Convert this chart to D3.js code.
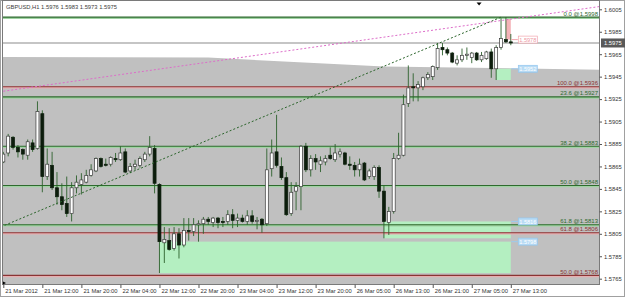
<!DOCTYPE html>
<meta charset="utf-8">

<!-- Load d3.js -->
<script src="https://d3js.org/d3.v7.min.js"></script>

<style>
  body { margin: 0; background: #ffffff; }
  text { font-family: "Liberation Sans", Arial, sans-serif; }
</style>

<!-- Create a div where the graph will take place -->
<div id="my_dataviz"></div>

<script>

// GBPUSD H1 bars, bar 0 = 21 Mar 2012 04:00 ... bar 104 = 27 Mar 2012 13:00
var opens = [
  1.5869, 1.5877, 1.5891, 1.5882, 1.5880, 1.5875, 1.5886, 1.5881, 1.5912, 1.5856,
  1.5866, 1.5846, 1.5838, 1.5832, 1.5823, 1.5846, 1.5849, 1.5851, 1.5857, 1.5861,
  1.5872, 1.5867, 1.5867, 1.5872, 1.5871, 1.5878, 1.5861, 1.5865, 1.5866, 1.5871,
  1.5876, 1.5881, 1.5849, 1.5797, 1.5799, 1.5792, 1.5805, 1.5795, 1.5808, 1.5807,
  1.5813, 1.5814, 1.5818, 1.5815, 1.5819, 1.5816, 1.5816, 1.5822, 1.5817, 1.5819,
  1.5816, 1.5821, 1.5816, 1.5818, 1.5814, 1.5863, 1.5878, 1.5865, 1.5855, 1.5823,
  1.5843, 1.5847, 1.5883, 1.5862, 1.5872, 1.5867, 1.5869, 1.5875, 1.5871, 1.5876,
  1.5877, 1.5867, 1.5866, 1.5862, 1.5868, 1.5856, 1.5856, 1.5864, 1.5843, 1.5815,
  1.5825, 1.5872, 1.5875, 1.5921, 1.5936, 1.5935, 1.5936, 1.5944, 1.5945, 1.5953,
  1.5971, 1.5969, 1.5966, 1.5957, 1.5960, 1.5964, 1.5962, 1.5966, 1.5960, 1.5961,
  1.5967, 1.5952, 1.5971, 1.5978, 1.5976];
var highs = [
  1.5878, 1.5894, 1.5892, 1.5884, 1.5881, 1.5889, 1.5889, 1.5923, 1.5915, 1.5881,
  1.5878, 1.5860, 1.5850, 1.5856, 1.5851, 1.5857, 1.5859, 1.5862, 1.5867, 1.5873,
  1.5873, 1.5872, 1.5874, 1.5877, 1.5883, 1.5881, 1.5868, 1.5871, 1.5874, 1.5878,
  1.5892, 1.5884, 1.5850, 1.5811, 1.5810, 1.5811, 1.5810, 1.5819, 1.5819, 1.5819,
  1.5817, 1.5820, 1.5820, 1.5820, 1.5820, 1.5820, 1.5826, 1.5827, 1.5823, 1.5822,
  1.5826, 1.5826, 1.5820, 1.5819, 1.5881, 1.5889, 1.5911, 1.5873, 1.5860, 1.5851,
  1.5851, 1.5884, 1.5886, 1.5875, 1.5876, 1.5874, 1.5875, 1.5882, 1.5885, 1.5881,
  1.5878, 1.5874, 1.5869, 1.5872, 1.5869, 1.5863, 1.5866, 1.5866, 1.5848, 1.5829,
  1.5877, 1.5895, 1.5929, 1.5955, 1.5948, 1.5941, 1.5945, 1.5949, 1.5955, 1.5975,
  1.5975, 1.5971, 1.5967, 1.5964, 1.5970, 1.5971, 1.5967, 1.5967, 1.5967, 1.5968,
  1.5970, 1.5973, 1.5997, 1.5998, 1.5983];
var lows = [
  1.5868, 1.5874, 1.5880, 1.5873, 1.5871, 1.5871, 1.5878, 1.5880, 1.5842, 1.5853,
  1.5844, 1.5831, 1.5826, 1.5820, 1.5816, 1.5841, 1.5840, 1.5850, 1.5856, 1.5860,
  1.5864, 1.5865, 1.5865, 1.5869, 1.5870, 1.5859, 1.5859, 1.5862, 1.5864, 1.5869,
  1.5874, 1.5841, 1.5770, 1.5779, 1.5790, 1.5790, 1.5783, 1.5793, 1.5799, 1.5803,
  1.5798, 1.5805, 1.5813, 1.5811, 1.5810, 1.5811, 1.5813, 1.5810, 1.5811, 1.5815,
  1.5813, 1.5814, 1.5809, 1.5806, 1.5812, 1.5856, 1.5864, 1.5853, 1.5821, 1.5821,
  1.5826, 1.5826, 1.5860, 1.5856, 1.5862, 1.5860, 1.5866, 1.5871, 1.5869, 1.5873,
  1.5866, 1.5862, 1.5856, 1.5856, 1.5852, 1.5854, 1.5853, 1.5837, 1.5801, 1.5804,
  1.5823, 1.5871, 1.5874, 1.5918, 1.5923, 1.5923, 1.5933, 1.5942, 1.5942, 1.5951,
  1.5964, 1.5964, 1.5957, 1.5955, 1.5958, 1.5960, 1.5957, 1.5959, 1.5958, 1.5960,
  1.5944, 1.5942, 1.5969, 1.5975, 1.5973];
var closes = [
  1.5876, 1.5892, 1.5882, 1.5878, 1.5876, 1.5887, 1.5880, 1.5914, 1.5856, 1.5867,
  1.5846, 1.5838, 1.5831, 1.5823, 1.5846, 1.5851, 1.5853, 1.5857, 1.5862, 1.5872,
  1.5865, 1.5866, 1.5873, 1.5871, 1.5877, 1.5860, 1.5865, 1.5867, 1.5872, 1.5876,
  1.5882, 1.5850, 1.5798, 1.5800, 1.5791, 1.5805, 1.5795, 1.5808, 1.5807, 1.5813,
  1.5814, 1.5818, 1.5816, 1.5819, 1.5815, 1.5815, 1.5822, 1.5817, 1.5819, 1.5816,
  1.5821, 1.5816, 1.5817, 1.5813, 1.5862, 1.5877, 1.5866, 1.5855, 1.5822, 1.5842,
  1.5847, 1.5883, 1.5862, 1.5872, 1.5869, 1.5870, 1.5872, 1.5872, 1.5877, 1.5878,
  1.5867, 1.5866, 1.5862, 1.5867, 1.5853, 1.5861, 1.5864, 1.5843, 1.5816, 1.5825,
  1.5872, 1.5875, 1.5920, 1.5935, 1.5935, 1.5938, 1.5944, 1.5947, 1.5954, 1.5970,
  1.5969, 1.5966, 1.5958, 1.5960, 1.5964, 1.5965, 1.5966, 1.5960, 1.5964, 1.5967,
  1.5952, 1.5971, 1.5979, 1.5976, 1.5975];

// time axis
var tickBars = [0, 8, 16, 24, 32, 40, 48, 56, 64, 72, 80, 88, 96, 104];
var tickLabels = ["21 Mar 2012", "21 Mar 12:00", "21 Mar 20:00", "22 Mar 04:00", "22 Mar 12:00",
  "22 Mar 20:00", "23 Mar 04:00", "23 Mar 12:00", "23 Mar 20:00", "26 Mar 05:00",
  "26 Mar 13:00", "26 Mar 21:00", "27 Mar 05:00", "27 Mar 13:00"];

// price axis
var priceTicks = [1.5765, 1.5785, 1.5805, 1.5825, 1.5845, 1.5865, 1.5885, 1.5905,
  1.5925, 1.5945, 1.5965, 1.5985, 1.6005];
var currentPrice = 1.5975;
var titleText = "GBPUSD,H1  1.5976 1.5983 1.5973 1.5975";

// fibonacci levels
var fibGreenLevels = ["0.0", "23.6", "38.2", "50.0", "61.8"];
var fibGreenPrices = [1.5998, 1.5927, 1.5883, 1.5848, 1.5813];
var fibRedLevels = ["100.0", "61.8", "50.0"];
var fibRedPrices = [1.5936, 1.5806, 1.5768];

// zones (rectangles)
var zoneFrom = [32, 78, 101, 103];
var zoneTo = [104, 104, 104, 104];
var zoneTop = [1.5798, 1.5816, 1.5952, 1.5998];
var zoneBottom = [1.5770, 1.5801, 1.5942, 1.5978];
var zoneLabels = ["1.5798", "1.5816", "1.5952", "1.5978"];
var zoneLabelPrices = [1.5798, 1.5816, 1.5952, 1.5978];
var zoneKinds = ["buy", "buy", "buy", "sell"];

// grey shaded object, top edge
var shadeBars = [-2, 42, 78, 126];
var shadePrices = [1.59625, 1.5962, 1.5954, 1.5951];

// trend lines
var greenTrendBars = [-2, 102];
var greenTrendPrices = [1.58084, 1.5998];
var pinkTrendBars = [0, 102];
var pinkTrendPrices = [1.5932, 1.5995];

// setting the dimensions of the graph
var W = 625, H = 297;
var chart = {left: 2.5, right: 599.5, top: 0.5, bottom: 284.5};

var svg = d3.select("#my_dataviz")
  .append("svg")
    .attr("width", W)
    .attr("height", H);

var x = d3.scaleLinear().domain([0, 104]).range([3.3, 510.8]);
var y = d3.scaleLinear().domain([1.5765, 1.6005]).range([278.7, 9.3]);

svg.append("defs").append("clipPath").attr("id", "clip")
  .append("rect")
    .attr("x", chart.left).attr("y", chart.top)
    .attr("width", chart.right - chart.left).attr("height", chart.bottom - chart.top);

// outer window frame
svg.append("rect")
  .attr("x", 0.5).attr("y", 0.5).attr("width", W - 1).attr("height", H - 1)
  .attr("fill", "#ffffff").attr("stroke", "#a0a0a0");

var plot = svg.append("g").attr("clip-path", "url(#clip)");

// grey shaded area
var shade = shadeBars.map(function(b, i) { return {bar: b, price: shadePrices[i]}; });
plot.append("path")
  .datum(shade)
  .attr("fill", "#c0c0c0")
  .attr("d", d3.area()
    .x(function(d) { return x(d.bar); })
    .y0(chart.bottom)
    .y1(function(d) { return y(d.price); }));

// zones
var zones = zoneFrom.map(function(f, i) {
  return {from: f, to: zoneTo[i], top: zoneTop[i], bottom: zoneBottom[i],
          label: zoneLabels[i], lp: zoneLabelPrices[i], kind: zoneKinds[i]};
});
plot.selectAll("myZones")
  .data(zones)
  .enter()
  .append("rect")
    .attr("x", function(d) { return x(d.from); })
    .attr("width", function(d) { return x(d.to) - x(d.from); })
    .attr("y", function(d) { return y(d.top); })
    .attr("height", function(d) { return y(d.bottom) - y(d.top); })
    .attr("fill", function(d) { return d.kind == "buy" ? "#b4efc1" : "#f4b3b8"; });

// fibonacci lines
var fibs = fibGreenPrices.map(function(p, i) { return {price: p, level: fibGreenLevels[i], col: "#2f6a2f", halo: "#9fd3a2"}; })
  .concat(fibRedPrices.map(function(p, i) { return {price: p, level: fibRedLevels[i], col: "#8a3434", halo: "#e6aeb0"}; }));

plot.selectAll("myHalo")
  .data(fibs)
  .enter()
  .append("line")
    .attr("x1", chart.left).attr("x2", chart.right)
    .attr("y1", function(d) { return y(d.price) + 0.8; })
    .attr("y2", function(d) { return y(d.price) + 0.8; })
    .attr("stroke", function(d) { return d.halo; })
    .attr("stroke-width", 2);
plot.selectAll("myFib")
  .data(fibs)
  .enter()
  .append("line")
    .attr("x1", chart.left).attr("x2", chart.right)
    .attr("y1", function(d) { return y(d.price); })
    .attr("y2", function(d) { return y(d.price); })
    .attr("stroke", function(d) { return d.col; })
    .attr("stroke-width", 1.1);

// current price line
plot.append("line")
  .attr("x1", chart.left).attr("x2", chart.right)
  .attr("y1", y(currentPrice)).attr("y2", y(currentPrice))
  .attr("stroke", "#8c8c8c").attr("stroke-width", 1.2);

// candles
var candles = opens.map(function(o, i) {
  return {i: i, o: o, h: highs[i], l: lows[i], c: closes[i]};
});
plot.selectAll("myWicks")
  .data(candles)
  .enter()
  .append("line")
    .attr("x1", function(d) { return x(d.i); })
    .attr("x2", function(d) { return x(d.i); })
    .attr("y1", function(d) { return y(d.h); })
    .attr("y2", function(d) { return y(d.l); })
    .attr("stroke", "#2c612c")
    .attr("stroke-width", 0.9);
plot.selectAll("myBodies")
  .data(candles)
  .enter()
  .append("rect")
    .attr("x", function(d) { return x(d.i) - 1.5; })
    .attr("width", 3)
    .attr("y", function(d) { return y(Math.max(d.o, d.c)); })
    .attr("height", function(d) { return Math.max(0.8, Math.abs(y(d.o) - y(d.c))); })
    .attr("fill", function(d) { return d.c >= d.o ? "#ffffff" : "#0c1d0c"; })
    .attr("stroke", function(d) { return d.c >= d.o ? "#3a3a3a" : "#0c1d0c"; })
    .attr("stroke-width", 0.7);

// trend lines (dotted)
var greenTrend = greenTrendBars.map(function(b, i) { return [b, greenTrendPrices[i]]; });
var slope = (pinkTrendPrices[1] - pinkTrendPrices[0]) / (pinkTrendBars[1] - pinkTrendBars[0]);
var pinkTrend = [[pinkTrendBars[0], pinkTrendPrices[0]], [126, pinkTrendPrices[0] + slope * (126 - pinkTrendBars[0])]];
var tline = d3.line().x(function(d) { return x(d[0]); }).y(function(d) { return y(d[1]); });

plot.append("path")
  .attr("d", tline(pinkTrend))
  .attr("fill", "none").attr("stroke", "#dc6cc8")
  .attr("stroke-width", 1).attr("stroke-dasharray", "2,2");
plot.append("path")
  .attr("d", tline(greenTrend))
  .attr("fill", "none").attr("stroke", "#2b642b")
  .attr("stroke-width", 1).attr("stroke-dasharray", "2,2");

// fibonacci labels
plot.selectAll("myFibLabels")
  .data(fibs)
  .enter()
  .append("text")
    .attr("x", 598)
    .attr("y", function(d) { return y(d.price) - 1.6; })
    .attr("text-anchor", "end")
    .style("font-size", "6px")
    .style("fill", function(d) { return d.col; })
    .text(function(d) { return d.level + " @" + d3.format(".4f")(d.price); });

// zone labels
var zl = svg.selectAll("myZoneLabels")
  .data(zones)
  .enter()
  .append("g")
    .attr("transform", function(d) { return "translate(" + (x(d.to) + 7) + "," + y(d.lp) + ")"; });
zl.append("line")
  .attr("x1", -6.5).attr("x2", 0).attr("y1", 0).attr("y2", 0)
  .attr("stroke", function(d) { return d.kind == "buy" ? "#9ccbee" : "#f2a6ae"; });
zl.append("rect")
  .attr("x", 0.5).attr("y", -3.5).attr("width", 19).attr("height", 7)
  .attr("fill", function(d) { return d.kind == "buy" ? "#b9dcf5" : "#ffffff"; })
  .attr("stroke", function(d) { return d.kind == "buy" ? "#93c6ee" : "#f2a6ae"; })
  .attr("stroke-width", 0.7);
zl.append("text")
  .attr("x", 10).attr("y", 2.1)
  .attr("text-anchor", "middle")
  .style("font-size", "5.6px")
  .style("fill", function(d) { return d.kind == "buy" ? "#ffffff" : "#ee97a2"; })
  .text(function(d) { return d.label; });

// chart frame
svg.append("rect")
  .attr("x", chart.left).attr("y", chart.top)
  .attr("width", chart.right - chart.left).attr("height", chart.bottom - chart.top)
  .attr("fill", "none").attr("stroke", "#7a7a7a");

// Adding Y axis (price, right side)
var yAxis = svg.append("g")
  .attr("transform", "translate(" + chart.right + ",0)")
  .call(d3.axisRight(y).tickValues(priceTicks).tickFormat(d3.format(".4f")).tickSize(2.5).tickPadding(2));
yAxis.select(".domain").remove();
yAxis.selectAll("line").attr("stroke", "#555");
yAxis.selectAll("text").style("font-size", "5.8px").style("fill", "#333").style("font-family", "Liberation Sans, Arial, sans-serif");

// current price box
svg.append("rect")
  .attr("x", 601).attr("y", y(currentPrice) - 4.5).attr("width", 24).attr("height", 9)
  .attr("fill", "#595959");
svg.append("text")
  .attr("x", 604).attr("y", y(currentPrice) + 2)
  .style("font-size", "5.8px").style("fill", "#ffffff")
  .text(d3.format(".4f")(currentPrice));

// Adding X axis (time)
var xAxis = svg.append("g")
  .attr("transform", "translate(0," + chart.bottom + ")")
  .call(d3.axisBottom(x).tickValues(tickBars).tickFormat(function(d, i) { return tickLabels[i]; }).tickSize(3.5).tickPadding(0));
xAxis.select(".domain").remove();
xAxis.selectAll("line").attr("stroke", "#555");
xAxis.selectAll("text")
  .attr("text-anchor", "start")
  .attr("dx", 1.5)
  .attr("y", 4.5)
  .style("font-size", "5.8px").style("fill", "#333").style("font-family", "Liberation Sans, Arial, sans-serif");

// title
svg.append("text")
  .attr("x", 6).attr("y", 8.6)
  .style("font-size", "5.8px").style("fill", "#3c3c3c")
  .text(titleText);

// chart shift marker and scroll marker
svg.append("path")
  .attr("d", "M" + (x(97.5) - 2.5) + ",2.5 L" + (x(97.5) + 2.5) + ",2.5 L" + x(97.5) + ",5.5 Z")
  .attr("fill", "#000");
svg.append("path")
  .attr("d", "M3,281.5 L6,283 L3,284.5 Z")
  .attr("fill", "#000");

</script>
